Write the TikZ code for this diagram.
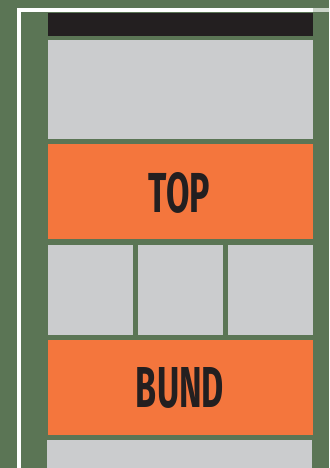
\documentclass[tikz,border=0pt]{standalone}
\usepackage{fontspec}
\setmainfont{Fira Sans}
\usepackage{graphicx}
\definecolor{bggreen}{HTML}{5B7555}
\definecolor{panelgrey}{HTML}{CBCCCE}
\definecolor{topbar}{HTML}{231F20}
\definecolor{orng}{HTML}{F4763D}
\definecolor{txt}{HTML}{231F20}
\definecolor{fadewhite}{HTML}{C9D3C7}
\tikzset{
  panel/.style={fill=panelgrey, draw=none},
  band/.style={fill=orng, draw=none},
  lbl/.style={text=txt, inner sep=0pt, font=\bfseries},
}
\begin{document}
\begin{tikzpicture}[x=1pt,y=-1pt]
\fill[bggreen] (0,0) rectangle (329,468);
\useasboundingbox (0,0) rectangle (329,468);
% white frame lines
\fill[white] (16.7,8.3) rectangle (313,12.3);
\fill[fadewhite] (313,8.3) rectangle (329,12.3);
\fill[white] (16.7,8.3) rectangle (20.7,468);
% dark bar
\fill[topbar] (48,12.7) rectangle (313,35.7);
% panels
\path[panel] (48,40) rectangle (313,139) coordinate (p1);
\path[band] (48,144) rectangle (313,239);
\path[panel] (48,245) rectangle (133,335);
\path[panel] (138,245) rectangle (223,335);
\path[panel] (228,245) rectangle (313,335);
\path[band] (48,340) rectangle (313,434.5);
\path[panel] (47,440) rectangle (312,468);
% labels
\node[lbl] (top) at (179.5,193) {\resizebox{61pt}{40pt}{TOP}};
\node[lbl] (bund) at (180,388) {\resizebox{88pt}{40pt}{BUND}};
\end{tikzpicture}
\end{document}
